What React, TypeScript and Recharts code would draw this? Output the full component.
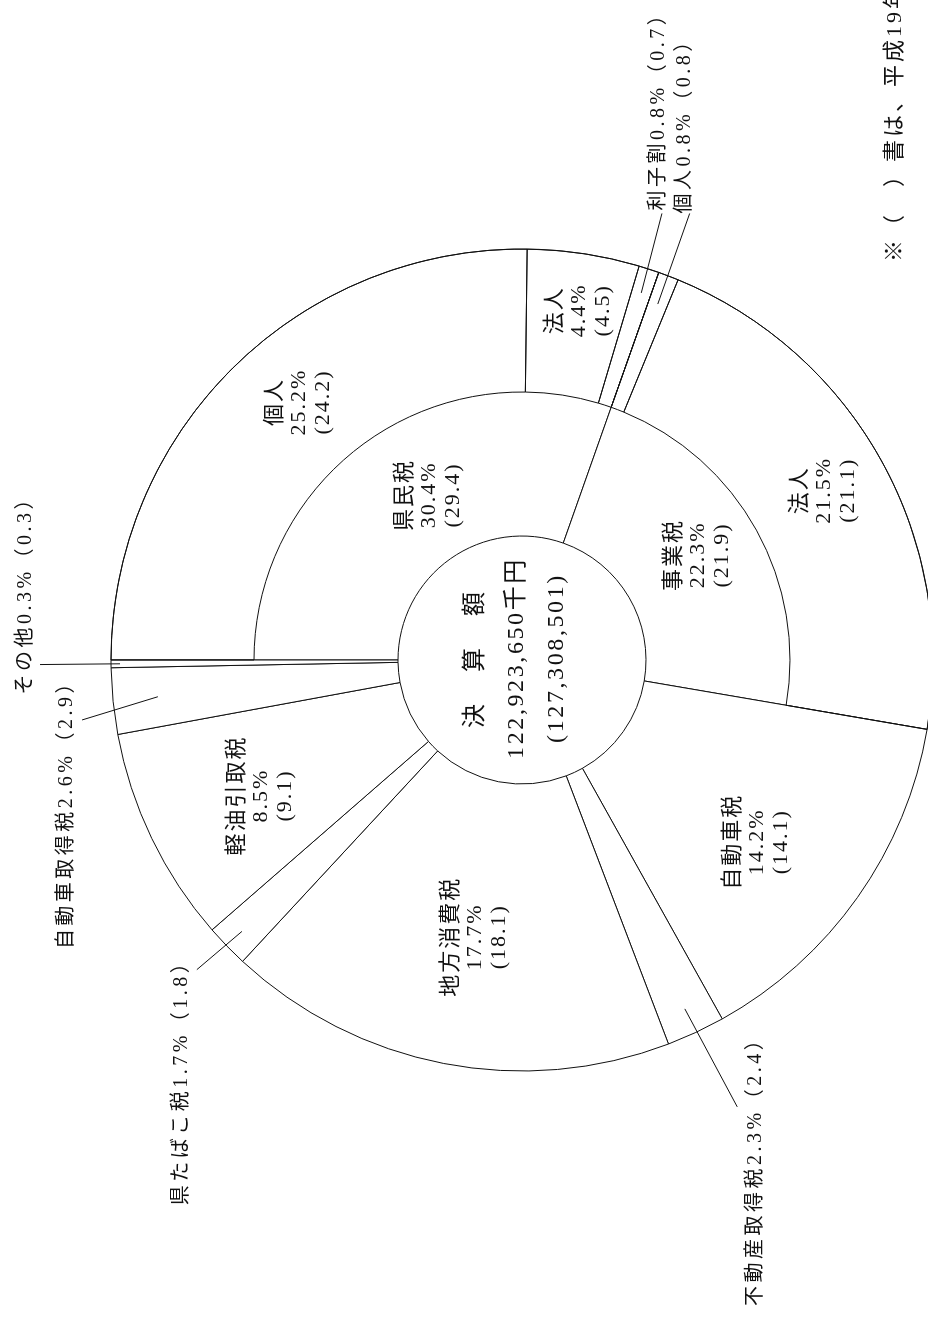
import React from 'react';
import { PieChart, Pie, Cell } from 'recharts';

// 県税決算額の内訳（構成比 %、カッコ内は前年度）
const categoryNames = ['県民税', '事業税', '自動車税', '不動産取得税', '地方消費税', '県たばこ税', '軽油引取税', '自動車取得税', 'その他'];
const categoryShares = [30.4, 22.3, 14.2, 2.3, 17.7, 1.7, 8.5, 2.6, 0.3];
const categoryPrev = [29.4, 21.9, 14.1, 2.4, 18.1, 1.8, 9.1, 2.9, 0.3];

// 県民税・事業税の内訳
const subParents = ['県民税', '県民税', '県民税', '事業税', '事業税'];
const subNames = ['個人', '法人', '利子割', '個人', '法人'];
const subShares = [25.2, 4.4, 0.8, 0.8, 21.5];
const subPrev = [24.2, 4.5, 0.7, 0.8, 21.1];

const centerLines = ['決　算　額', '122,923,650千円', '(127,308,501)'];
const noteText = '※（　）書は、平成19年度決算額';

// chart is drawn landscape and turned to the page
const W = 1321;
const H = 928;
const CX = 661;
const CY = 522;
const R_IN = 124;
const R_MID = 268;
const R_OUT = 411;
const FONT = "'Liberation Serif', 'Noto Sans CJK JP', serif";
const INK = '#111';

const innerData = categoryNames.map((name, i) => ({
  key: 'c' + i,
  name,
  value: categoryShares[i],
  prev: categoryPrev[i],
}));

const outerData: { key: string; name: string; value: number; prev: number; show: boolean }[] = [];
categoryNames.forEach((cat, i) => {
  const subs = subParents.map((p, j) => (p === cat ? j : -1)).filter((j) => j >= 0);
  if (subs.length) {
    subs.forEach((j) =>
      outerData.push({ key: 's' + j, name: subNames[j], value: subShares[j], prev: subPrev[j], show: true })
    );
  } else {
    outerData.push({ key: 'h' + i, name: cat, value: categoryShares[i], prev: categoryPrev[i], show: false });
  }
});

type InnerLayout = { kind: 'inner'; r: number; da: number };
type CalloutLayout = {
  kind: 'callout';
  r1: number;
  r2: number;
  da: number;
  dx: number;
  dy: number;
  anchor: 'start' | 'end';
};

// da: clockwise shift from the slice mid angle (deg)
const labelLayout: Record<string, InnerLayout | CalloutLayout> = {
  c0: { kind: 'inner', r: 190, da: 5.6 },
  c1: { kind: 'inner', r: 204, da: -0.6 },
  c2: { kind: 'inner', r: 296, da: 2.6 },
  c3: { kind: 'callout', r1: 385, r2: 496, da: -0.7, dx: 80, dy: 17, anchor: 'end' },
  c4: { kind: 'inner', r: 281, da: -1.0 },
  c5: { kind: 'callout', r1: 390, r2: 449, da: 0.5, dx: 20, dy: -17, anchor: 'end' },
  c6: { kind: 'inner', r: 295, da: -1.6 },
  c7: { kind: 'callout', r1: 366, r2: 444, da: -2.0, dx: 50, dy: -17, anchor: 'end' },
  c8: { kind: 'callout', r1: 402, r2: 482, da: 0, dx: -30, dy: -16, anchor: 'start' },
  s0: { kind: 'inner', r: 342, da: 3.6 },
  s1: { kind: 'inner', r: 354, da: 0.3 },
  s2: { kind: 'callout', r1: 386, r2: 468, da: -0.6, dx: 3, dy: -5, anchor: 'start' },
  s3: { kind: 'callout', r1: 381, r2: 477, da: -0.3, dx: 0, dy: -7, anchor: 'start' },
  s4: { kind: 'inner', r: 345, da: -0.5 },
};

const RAD = Math.PI / 180;
const polar = (cx: number, cy: number, r: number, angle: number) => [
  cx + r * Math.cos(angle * RAD),
  cy - r * Math.sin(angle * RAD),
];
const fmt = (v: number) => v.toFixed(1);

const renderLabel = (p: any) => {
  const d = p.payload || {};
  const l = labelLayout[d.key];
  if (!l) return null;
  const cx = typeof p.cx === 'number' ? p.cx : CX;
  const cy = typeof p.cy === 'number' ? p.cy : CY;
  const mid = p.midAngle;
  if (l.kind === 'inner') {
    const [x, y] = polar(cx, cy, l.r, mid - l.da);
    const lines = [d.name, `${fmt(d.value)}%`, `(${fmt(d.prev)})`];
    return (
      <g>
        {lines.map((s, i) => (
          <text
            key={i}
            x={x}
            y={y + (i - 1) * 24}
            textAnchor="middle"
            dominantBaseline="central"
            fontFamily={FONT}
            fontSize={22}
            letterSpacing={2}
            fill={INK}
          >
            {s}
          </text>
        ))}
      </g>
    );
  }
  const [x1, y1] = polar(cx, cy, l.r1, mid);
  const [x2, y2] = polar(cx, cy, l.r2, mid - l.da);
  return (
    <g>
      <line x1={x1} y1={y1} x2={x2} y2={y2} stroke={INK} strokeWidth={1} />
      <text
        x={x2 + l.dx}
        y={y2 + l.dy}
        textAnchor={l.anchor}
        dominantBaseline="central"
        fontFamily={FONT}
        fontSize={20}
        letterSpacing={3.5}
        fill={INK}
      >
        {`${d.name}${fmt(d.value)}%（${fmt(d.prev)}）`}
      </text>
    </g>
  );
};

const centerOffsets = [-48, -7, 33];

export default function App() {
  return (
    <div
      style={{
        position: 'fixed',
        left: 0,
        top: 0,
        width: W,
        height: H,
        background: '#fff',
        transformOrigin: '0 0',
        transform: `translateY(${W}px) rotate(-90deg)`,
      }}
    >
      <PieChart width={W} height={H} margin={{ top: 0, right: 0, bottom: 0, left: 0 }}>
        <Pie
          data={innerData}
          dataKey="value"
          nameKey="name"
          cx={CX}
          cy={CY}
          innerRadius={R_IN}
          outerRadius={R_OUT}
          startAngle={90}
          endAngle={-270}
          stroke={INK}
          strokeWidth={1}
          fill="#fff"
          label={renderLabel}
          labelLine={false}
          isAnimationActive={false}
        >
          {innerData.map((d) => (
            <Cell key={d.key} fill="#fff" stroke={INK} />
          ))}
        </Pie>
        <Pie
          data={outerData}
          dataKey="value"
          nameKey="name"
          cx={CX}
          cy={CY}
          innerRadius={R_MID}
          outerRadius={R_OUT}
          startAngle={90}
          endAngle={-270}
          strokeWidth={1}
          label={renderLabel}
          labelLine={false}
          isAnimationActive={false}
        >
          {outerData.map((d) => (
            <Cell key={d.key} fill="none" stroke={d.show ? INK : 'none'} />
          ))}
        </Pie>
      </PieChart>
      <svg width={W} height={H} style={{ position: 'absolute', left: 0, top: 0, pointerEvents: 'none' }}>
        {centerLines.map((s, i) => (
          <text
            key={i}
            x={CX + 2}
            y={CY + centerOffsets[i]}
            textAnchor="middle"
            dominantBaseline="central"
            fontFamily={FONT}
            fontSize={24}
            letterSpacing={i === 0 ? 4 : 2.6}
            fill={INK}
          >
            {s}
          </text>
        ))}
        <text x={1059} y={893} dominantBaseline="central" fontFamily={FONT} fontSize={22} letterSpacing={3} fill={INK}>
          {noteText}
        </text>
      </svg>
    </div>
  );
}
